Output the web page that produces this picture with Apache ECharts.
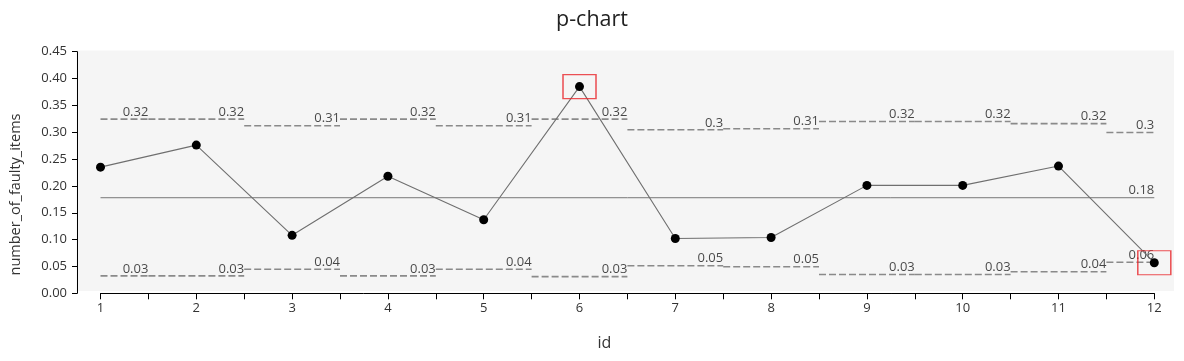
<!DOCTYPE html>
<html><head><meta charset="utf-8">
<script src="https://cdn.jsdelivr.net/npm/echarts@6/dist/echarts.min.js"></script>
<style>html,body{margin:0;padding:0;background:#fff}#c{width:1184px;height:361px}</style>
</head><body><div id="c"></div>
<script>
// ---- data ----
const ids = [1, 2, 3, 4, 5, 6, 7, 8, 9, 10, 11, 12];
const proportions = [0.235, 0.276, 0.108, 0.218, 0.137, 0.385, 0.102, 0.104, 0.201, 0.201, 0.237, 0.057];
const centerLine = 0.178;
const ucl = [0.3245, 0.3245, 0.312, 0.3245, 0.312, 0.3245, 0.3045, 0.3065, 0.320, 0.320, 0.316, 0.2994];
const lcl = [0.0325, 0.0325, 0.0449, 0.0325, 0.0449, 0.031, 0.0514, 0.0495, 0.0349, 0.0349, 0.0402, 0.0578];
const titleText = 'p-chart';
const xName = 'id';
const yName = 'number_of_faulty_items';

// ---- build ----
const FONT = "'Segoe UI', 'Open Sans', 'Noto Sans', sans-serif";
const xMin = ids[0], xMax = ids[ids.length - 1];
const series = [];
const labelPts = [];
const dashStyle = { color: '#8a8a8a', width: 1.6, type: [7, 3] };

function addLimit(vals) {
  vals.forEach((v, i) => {
    const x0 = Math.max(xMin, ids[i] - 0.5), x1 = Math.min(xMax, ids[i] + 0.5);
    series.push({
      type: 'line', xAxisIndex: 0, yAxisIndex: 0, silent: true, symbol: 'none',
      lineStyle: dashStyle, z: 2, animation: false,
      data: [[x0, v], [x1, v]]
    });
    labelPts.push([x1, v]);
  });
}
addLimit(ucl);
addLimit(lcl);

series.push({
  type: 'line', silent: true, symbol: 'none', z: 2, animation: false,
  lineStyle: { color: '#777', width: 1 },
  data: [[xMin, centerLine], [xMax, centerLine]]
});
labelPts.push([xMax, centerLine]);

series.push({
  type: 'scatter', silent: true, z: 3, animation: false,
  symbolSize: 1, itemStyle: { color: 'rgba(0,0,0,0)' },
  label: {
    show: true, position: 'top', align: 'right', verticalAlign: 'bottom', distance: 0,
    offset: [0, 3],
    color: '#1a1a1a', fontSize: 13, fontFamily: FONT,
    formatter: p => String(+p.value[1].toFixed(2))
  },
  labelLayout: { hideOverlap: false },
  data: labelPts
});

series.push({
  type: 'line', z: 5, animation: false, silent: true,
  symbol: 'circle', symbolSize: 9,
  lineStyle: { color: '#6f6f6f', width: 1.1 },
  itemStyle: { color: '#000' },
  data: ids.map((x, i) => [x, proportions[i]])
});

const outPts = ids.map((x, i) => [x, proportions[i]])
  .filter((d, i) => proportions[i] > ucl[i] || proportions[i] < lcl[i]);
series.push({
  type: 'scatter', z: 6, animation: false, silent: true,
  symbol: 'rect', symbolSize: [33, 24],
  itemStyle: { color: 'rgba(0,0,0,0)', borderColor: '#e8262b', borderWidth: 1.3 },
  data: outPts
});

const chart = echarts.init(document.getElementById('c'), null, { renderer: 'canvas' });
chart.setOption({
  animation: false,
  backgroundColor: '#fff',
  title: {
    text: titleText, left: 'center', top: 4,
    textStyle: { fontSize: 21.5, fontWeight: 'normal', color: '#222', fontFamily: FONT }
  },
  grid: [
    { left: 96.5, right: 29.7, top: 51.7, bottom: 67.7, show: false },
    { left: 76.5, right: 10, top: 50.5, bottom: 70, show: true, backgroundColor: '#f5f5f5', borderWidth: 0, z: -1 }
  ],
  xAxis: [{
    type: 'value', gridIndex: 0, min: xMin, max: xMax, interval: 0.5,
    name: xName, nameLocation: 'middle', nameGap: 42,
    nameTextStyle: { fontSize: 16, color: '#333', fontFamily: FONT, padding: [0, 46, 0, 0] },
    axisLine: { show: true, lineStyle: { color: '#000', width: 1 } },
    axisTick: { show: true, length: 6, lineStyle: { color: '#000' } },
    axisLabel: {
      color: '#333', fontSize: 13, fontFamily: FONT, margin: 8,
      formatter: v => (Number.isInteger(v) ? String(v) : '')
    },
    splitLine: { show: false }
  }],
  yAxis: [{
    type: 'value', gridIndex: 0, min: 0, max: 0.45, interval: 0.05, offset: 23.5,
    name: yName, nameLocation: 'middle', nameGap: 54, nameRotate: 90,
    nameTextStyle: { fontSize: 14.5, color: '#333', fontFamily: FONT, padding: [0, 44, 0, 0] },
    axisLine: { show: true, lineStyle: { color: '#000', width: 1 } },
    axisTick: { show: true, length: 5, lineStyle: { color: '#000' } },
    axisLabel: {
      color: '#333', fontSize: 13, fontFamily: FONT, margin: 10,
      formatter: v => v.toFixed(2)
    },
    splitLine: { show: false }
  }],
  series: series
});
</script></body></html>
